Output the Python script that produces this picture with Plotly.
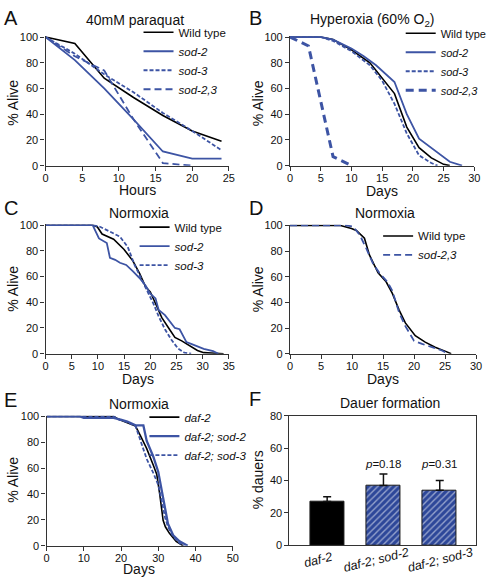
import plotly.graph_objects as go

W, H = 500, 583
FONT = "Liberation Sans, Arial, Helvetica, sans-serif"
BLUE = "#3d54a4"
BLACK = "#000000"

# ---------------- data ----------------
# A: 40mM paraquat (hours)
A_hours = [0, 4, 8, 12, 16, 20, 24]
A_wt = [100, 95, 68, 53, 39, 27, 19]
A_sod2 = [100, 82, 60, 36, 11, 5.5, 5.5]
A_sod3 = [100, 87, 71, 57, 41, 27, 12]
A_sod23_hours = [0, 4, 8, 12, 16, 20]
A_sod23 = [100, 85, 74, 36, 2, 0]

# B: hyperoxia (days)
B_wt_days = [0, 5, 7, 10, 13, 15, 17, 19, 21, 23, 25, 26]
B_wt = [100, 100, 98, 90, 80, 68, 56, 30, 14, 6, 1, 0]
B_sod2_days = [0, 5, 7, 10, 12, 14, 17, 19, 21, 24, 26, 28]
B_sod2 = [100, 100, 98, 91, 85, 78, 65, 40, 21, 10, 3, 0]
B_sod3_days = [0, 5, 7, 10, 13, 15, 17, 19, 21, 23, 24]
B_sod3 = [100, 100, 97, 89, 78, 66, 48, 25, 8, 2, 0]
B_sod23_days = [0, 3, 7, 10]
B_sod23 = [100, 93, 7, 0]

# C: normoxia (days)
C_wt_days = [0, 9, 9.9, 10.8, 13, 15, 16.7, 18, 19.1, 20, 21, 22.2, 23.5, 24.7, 26, 27.5, 29, 30.2, 34]
C_wt = [100, 100, 98.5, 93, 89, 81, 72, 62, 52, 48, 39, 28, 20, 12.6, 10, 6.3, 2.5, 0.8, 0]
C_sod2_days = [0, 9, 10.2, 11.7, 12.3, 13.3, 14.2, 15.4, 16.7, 17.9, 19.1, 20, 21, 21.6, 22.8, 24, 24.7, 25.6, 26.2, 26.9, 27.8, 30.2, 32, 33]
C_sod2 = [100, 100, 89.6, 86, 74.5, 73, 70.7, 69, 64, 59, 53, 46.7, 43, 34, 30, 24, 20, 19, 14, 9, 7.6, 3.8, 2, 0]
C_sod3_days = [0, 9, 10.5, 12.3, 14.2, 15.7, 17, 18.2, 19.4, 20.7, 21.6, 22.8, 24, 25.3, 26.5, 27.8]
C_sod3 = [100, 100, 98.5, 95, 91, 83, 69, 59, 49, 38, 29, 19, 11, 4, 0.8, 0]

# D: normoxia (days)
D_wt_days = [0, 8, 9.9, 10.7, 12, 12.8, 14.2, 15.5, 16.5, 17.6, 18.6, 20.2, 21.8, 23.4, 25, 26]
D_wt = [100, 100, 97.5, 96, 90, 77, 63, 56, 47, 34, 24, 14, 9, 5, 2, 0]
D_sod23_days = [0, 9, 10.2, 11.3, 12.3, 13.4, 14.4, 15.7, 16.5, 17.6, 18.6, 20, 21.3, 22.9, 24.5, 25.5]
D_sod23 = [100, 100, 99, 92, 82, 70, 63, 56, 49, 32, 21.5, 10, 7.6, 5, 2.5, 0]

# E: normoxia, daf-2 background (days)
E_daf2_days = [0, 18, 19.5, 21.7, 23.9, 25.2, 26.9, 28.7, 29.6, 30.4, 31.3, 31.9, 33, 34.8, 36.6]
E_daf2 = [100, 100, 97.5, 95, 92.5, 85, 75, 62, 55, 39.7, 19.6, 14.6, 9.5, 3.3, 0]
E_sod2_days = [0, 9, 10, 18, 19.9, 21.7, 23.9, 26, 26.9, 28.7, 30, 30.9, 31.8, 32.6, 34, 35.7, 37.9]
E_sod2 = [100, 100, 98.8, 98.8, 97.5, 96, 93, 93, 81, 68.6, 57, 42, 27, 17, 8, 3.3, 0]
E_sod3_days = [0, 18, 19, 21.7, 23.9, 25.2, 26.9, 28.7, 30, 30.9, 31.8, 32.6, 34, 35.7, 37]
E_sod3 = [100, 100, 98, 95.5, 92.5, 81, 67, 56, 47, 35, 22, 14.6, 7, 2, 0]

# F: dauer formation
F_pos = [0, 1, 2]
F_strains = ["<i>daf-2</i>", "<i>daf-2; sod-2</i>", "<i>daf-2; sod-3</i>"]
F_dauers = [27, 37, 34]
F_err = [3, 7, 6]
F_pvals = ["", "<i>p</i>=0.18", "<i>p</i>=0.31"]

# ---------------- layout helpers ----------------
def px_x(p):
    return p / W

def px_y(p):
    return 1 - p / H

fig = go.Figure()

def line(x, y, name, color, dash="solid", width=1.8, axis="", legend="legend"):
    fig.add_trace(go.Scatter(
        x=x, y=y, name=name, mode="lines",
        line=dict(color=color, dash=dash, width=width),
        xaxis="x" + axis, yaxis="y" + axis, legend=legend,
        hoverinfo="skip"))

SHORT = "4px,2px"
LONG = "7px,4px"

# A
line(A_hours, A_wt, "Wild type", BLACK, axis="", legend="legend", width=1.6)
line(A_hours, A_sod2, "<i>sod-2</i>", BLUE, axis="", legend="legend")
line(A_hours, A_sod3, "<i>sod-3</i>", BLUE, SHORT, axis="", legend="legend")
line(A_sod23_hours, A_sod23, "<i>sod-2,3</i>", BLUE, LONG, axis="", legend="legend")
# B
line(B_wt_days, B_wt, "Wild type", BLACK, axis="2", legend="legend2", width=1.6)
line(B_sod2_days, B_sod2, "<i>sod-2</i>", BLUE, axis="2", legend="legend2")
line(B_sod3_days, B_sod3, "<i>sod-3</i>", BLUE, SHORT, axis="2", legend="legend2")
line(B_sod23_days, B_sod23, "<i>sod-2,3</i>", BLUE, "8px,5px", width=3, axis="2", legend="legend2")
# C
line(C_wt_days, C_wt, "Wild type", BLACK, axis="3", legend="legend3", width=1.6)
line(C_sod2_days, C_sod2, "<i>sod-2</i>", BLUE, axis="3", legend="legend3")
line(C_sod3_days, C_sod3, "<i>sod-3</i>", BLUE, SHORT, axis="3", legend="legend3")
# D
line(D_wt_days, D_wt, "Wild type", BLACK, axis="4", legend="legend4", width=1.6)
line(D_sod23_days, D_sod23, "<i>sod-2,3</i>", BLUE, LONG, axis="4", legend="legend4")
# E
line(E_daf2_days, E_daf2, "<i>daf-2</i>", BLACK, axis="5", legend="legend5", width=1.6)
line(E_sod2_days, E_sod2, "<i>daf-2; sod-2</i>", BLUE, width=2.3, axis="5", legend="legend5")
line(E_sod3_days, E_sod3, "<i>daf-2; sod-3</i>", BLUE, SHORT, axis="5", legend="legend5")

# F bars
fig.add_trace(go.Bar(
    x=F_pos, y=F_dauers, width=0.6,
    marker=dict(color=[BLACK, "#2d4799", "#2d4799"],
                line=dict(color="#1a1a1a", width=1),
                pattern=dict(shape=["", "/", "/"], fgcolor="#0d1430", size=4.5, solidity=0.3)),
    error_y=dict(type="data", symmetric=False, array=F_err, arrayminus=[0, 0, 0],
                 color="#111111", thickness=1.5, width=4),
    xaxis="x6", yaxis="y6", showlegend=False, hoverinfo="skip"))

# axes
axis_style = dict(showline=True, linecolor="#333333", linewidth=1.2, ticks="outside",
                  ticklen=4, tickcolor="#333333", showgrid=False, zeroline=False,
                  tickfont=dict(family=FONT, size=11, color="#111111"), fixedrange=True)

panels = {
    "": dict(x=(43.3, 230), y=(31, 163), xr=[0, 25], dt=5),
    "2": dict(x=(292.3, 480), y=(31, 163), xr=[0, 30], dt=5),
    "3": dict(x=(43.3, 230), y=(223, 355), xr=[0, 35], dt=5),
    "4": dict(x=(292.3, 481.7), y=(223.3, 355), xr=[0, 30], dt=5),
    "5": dict(x=(44.3, 234), y=(418.3, 551), xr=[0, 50], dt=10),
}
lay = {}
for k, p in panels.items():
    xn = "xaxis" + k
    yn = "yaxis" + k
    lay[xn] = dict(axis_style, domain=[px_x(p["x"][0]), px_x(p["x"][1])], range=p["xr"],
                   dtick=p["dt"], tick0=0, anchor="y" + k, ticklabelstandoff=-2)
    lay[yn] = dict(axis_style, domain=[px_y(p["y"][1]), px_y(p["y"][0])], range=[0, 100.5],
                   tickvals=[0, 20, 40, 60, 80, 100], anchor="x" + k)

lay["xaxis6"] = dict(axis_style, domain=[px_x(291.7), px_x(482)], range=[-0.67, 2.65],
                     tickvals=F_pos, showticklabels=False, ticks="",
                     mirror=True, anchor="y6")
lay["yaxis6"] = dict(axis_style, domain=[px_y(550.7), px_y(418.3)], range=[0, 80],
                     tickvals=[0, 20, 40, 60, 80], mirror=True, anchor="x6")

ann = []

def text(x, y, s, size=14, **kw):
    d = dict(x=px_x(x), y=px_y(y), xref="paper", yref="paper", text=s, showarrow=False,
             font=dict(family=FONT, size=size, color="#111111"), xanchor="center", yanchor="middle")
    d.update(kw)
    ann.append(d)

# panel letters
for L, x, y in [("A", -1, 12), ("B", 248, 12), ("C", -1, 206), ("D", 248, 206), ("E", -1, 402), ("F", 248, 401)]:
    text(x, y, L, size=20, xanchor="left")

# titles
text(134, 14, "40mM paraquat")
text(376, 14, "Hyperoxia (60% O<sub>2</sub>)")
text(138, 211, "Normoxia")
text(389, 211, "Normoxia")
text(139, 406, "Normoxia")
text(394, 405, "Dauer formation")

# axis titles
text(137, 188, "Hours")
text(386, 189, "Days")
text(137, 381, "Days")
text(387, 381, "Days")
text(139, 575, "Days")
for x, y in [(10, 99), (260, 99), (10, 289), (260, 289), (10, 484)]:
    text(x, y, "% Alive", textangle=-90)
text(260, 484, "% dauers", textangle=-90)

# p-values
for i, s in enumerate(F_pvals):
    if s:
        ann.append(dict(x=F_pos[i], y=50, xref="x6", yref="y6", text=s, showarrow=False,
                        font=dict(family=FONT, size=11.5, color="#111111"), yanchor="middle"))

# rotated category labels under the bars
for i, s, sh in zip(F_pos, F_strains, [-9, -7, 1]):
    ann.append(dict(x=i, y=0, xref="x6", yref="y6", text=s, showarrow=False, textangle=-14,
                    xshift=sh, yshift=-15, xanchor="center", yanchor="middle",
                    font=dict(family=FONT, size=12.5, color="#111111")))

leg_style = dict(bgcolor="rgba(0,0,0,0)", borderwidth=0, xanchor="left", yanchor="top",
                 font=dict(family=FONT, size=11.5, color="#111111"), itemwidth=30,
                 tracegroupgap=0)

lay.update(
    width=W, height=H, margin=dict(l=0, r=0, t=0, b=0),
    paper_bgcolor="white", plot_bgcolor="white",
    font=dict(family=FONT, size=12, color="#111111"),
    annotations=ann, showlegend=True, bargap=0,
    legend=dict(leg_style, x=px_x(138), y=px_y(12)),
    legend2=dict(leg_style, x=px_x(405), y=px_y(13), font=dict(family=FONT, size=11, color="#111111")),
    legend3=dict(leg_style, x=px_x(134), y=px_y(211)),
    legend4=dict(leg_style, x=px_x(382), y=px_y(220)),
    legend5=dict(leg_style, x=px_x(144), y=px_y(405)),
)
fig.update_layout(**lay)
fig.write_html("out.html", config={"displayModeBar": False},
               post_script="document.body.style.margin='0px';document.body.style.overflow='hidden';")
